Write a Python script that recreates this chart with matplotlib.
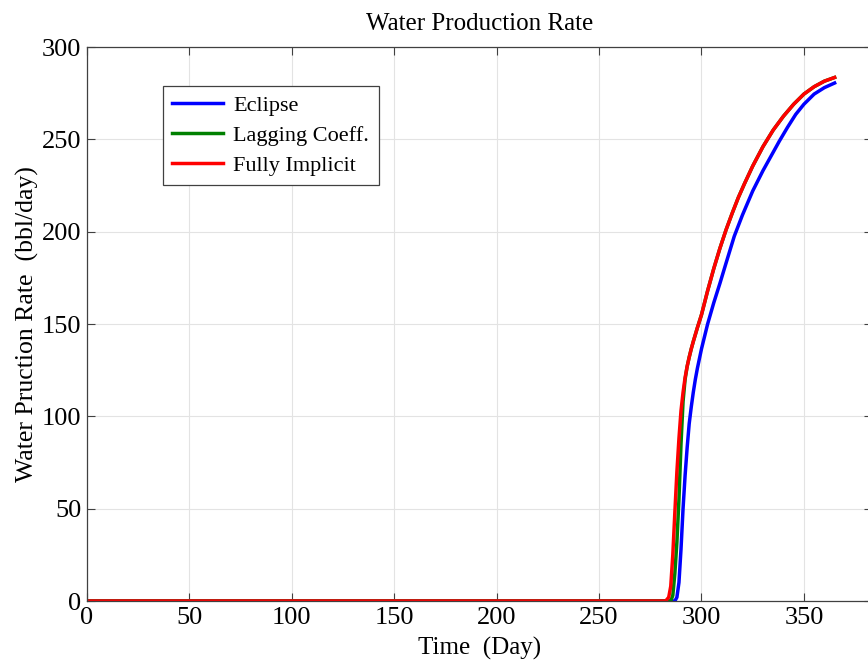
import numpy as np
import matplotlib
matplotlib.use("Agg")
import matplotlib.pyplot as plt

plt.rcParams['font.family'] = ['Liberation Serif', 'DejaVu Serif']

# data (days, bbl/day)
t_eclipse = [0, 287, 288, 289, 290, 291, 292, 293, 294, 295, 296, 297, 298, 300,
             303, 306, 309, 312, 316, 320, 325, 330, 335, 338, 342, 346, 350,
             355, 360, 365]
q_eclipse = [0, 0, 2, 10, 28, 50, 68, 83, 96, 105, 113, 120, 126, 136.5,
             150, 161.5, 172, 183, 197.5, 209, 222, 233, 243, 249, 256.5, 263.5, 269,
             274.5, 278, 280.5]

t_lagging = [0, 285, 286, 287, 288, 289, 290, 291, 292, 293, 294, 295, 296, 298,
             300, 303, 306, 309, 312, 315, 318, 321, 325, 330, 335, 340, 345,
             350, 355, 360, 365]
q_lagging = [0, 0, 3, 15, 32, 55, 85, 108, 120, 127, 132, 136.5, 140.5, 148,
             155, 168, 180, 191, 201, 210, 218.5, 226, 235.5, 246, 255, 262.5, 269,
             274.5, 278.5, 281.5, 283.5]

t_implicit = [0, 282.5, 284, 285, 286, 287, 288, 289, 290, 291, 292, 293, 294, 295,
              296, 298, 300, 303, 306, 309, 312, 315, 318, 321, 325, 330, 335,
              340, 345, 350, 355, 360, 365]
q_implicit = [0, 0, 2, 8, 25, 48, 70, 88, 103, 113, 121, 127, 132, 136.5,
              140.5, 148, 155, 168, 180, 191, 201, 210, 218.5, 226, 235.5, 246, 255,
              262.5, 269, 274.5, 278.5, 281.5, 283.5]

xticks = [0, 50, 100, 150, 200, 250, 300, 350]
yticks = [0, 50, 100, 150, 200, 250, 300]

W, H = 868, 665
fig = plt.figure(figsize=(W / 100, H / 100), dpi=100)
# axes run a little past the right edge, like the cropped original
ax = fig.add_axes([87 / W, 1 - 601 / H, (872 - 87) / W, (601 - 47) / H])

ax.plot(t_eclipse, q_eclipse, color='#0000ff', lw=2.5, label='Eclipse')
ax.plot(t_lagging, q_lagging, color='#008000', lw=2.5, label='Lagging Coeff.')
ax.plot(t_implicit, q_implicit, color='#ff0000', lw=2.5, label='Fully Implicit')

ax.set_xlim(0, 383.25)
ax.set_ylim(0, 300)
ax.set_xticks(xticks)
ax.set_yticks(yticks)
ax.grid(True, color='#e3e3e3', lw=0.8)
ax.set_axisbelow(True)
ax.tick_params(direction='in', length=6, width=0.8, top=True, right=True,
               labelsize=19, color='#404040', pad=4)
for s in ax.spines.values():
    s.set_color('#404040')
    s.set_linewidth(0.9)

ax.set_title('Water Production Rate', fontsize=18, pad=12)
ax.set_xlabel('Time  (Day)', fontsize=18, labelpad=6)
ax.set_ylabel('Water Pruction Rate  (bbl/day)', fontsize=18.5, labelpad=2)

leg = ax.legend(loc='upper left', bbox_to_anchor=(163 / W, 1 - 86 / H),
                bbox_transform=fig.transFigure, borderaxespad=0, fontsize=16,
                fancybox=False, framealpha=1, edgecolor='#404040',
                handlelength=2.3, handletextpad=0.45, labelspacing=0.42,
                borderpad=0.42)
leg.get_frame().set_linewidth(0.9)

fig.savefig('out.png', dpi=100)
